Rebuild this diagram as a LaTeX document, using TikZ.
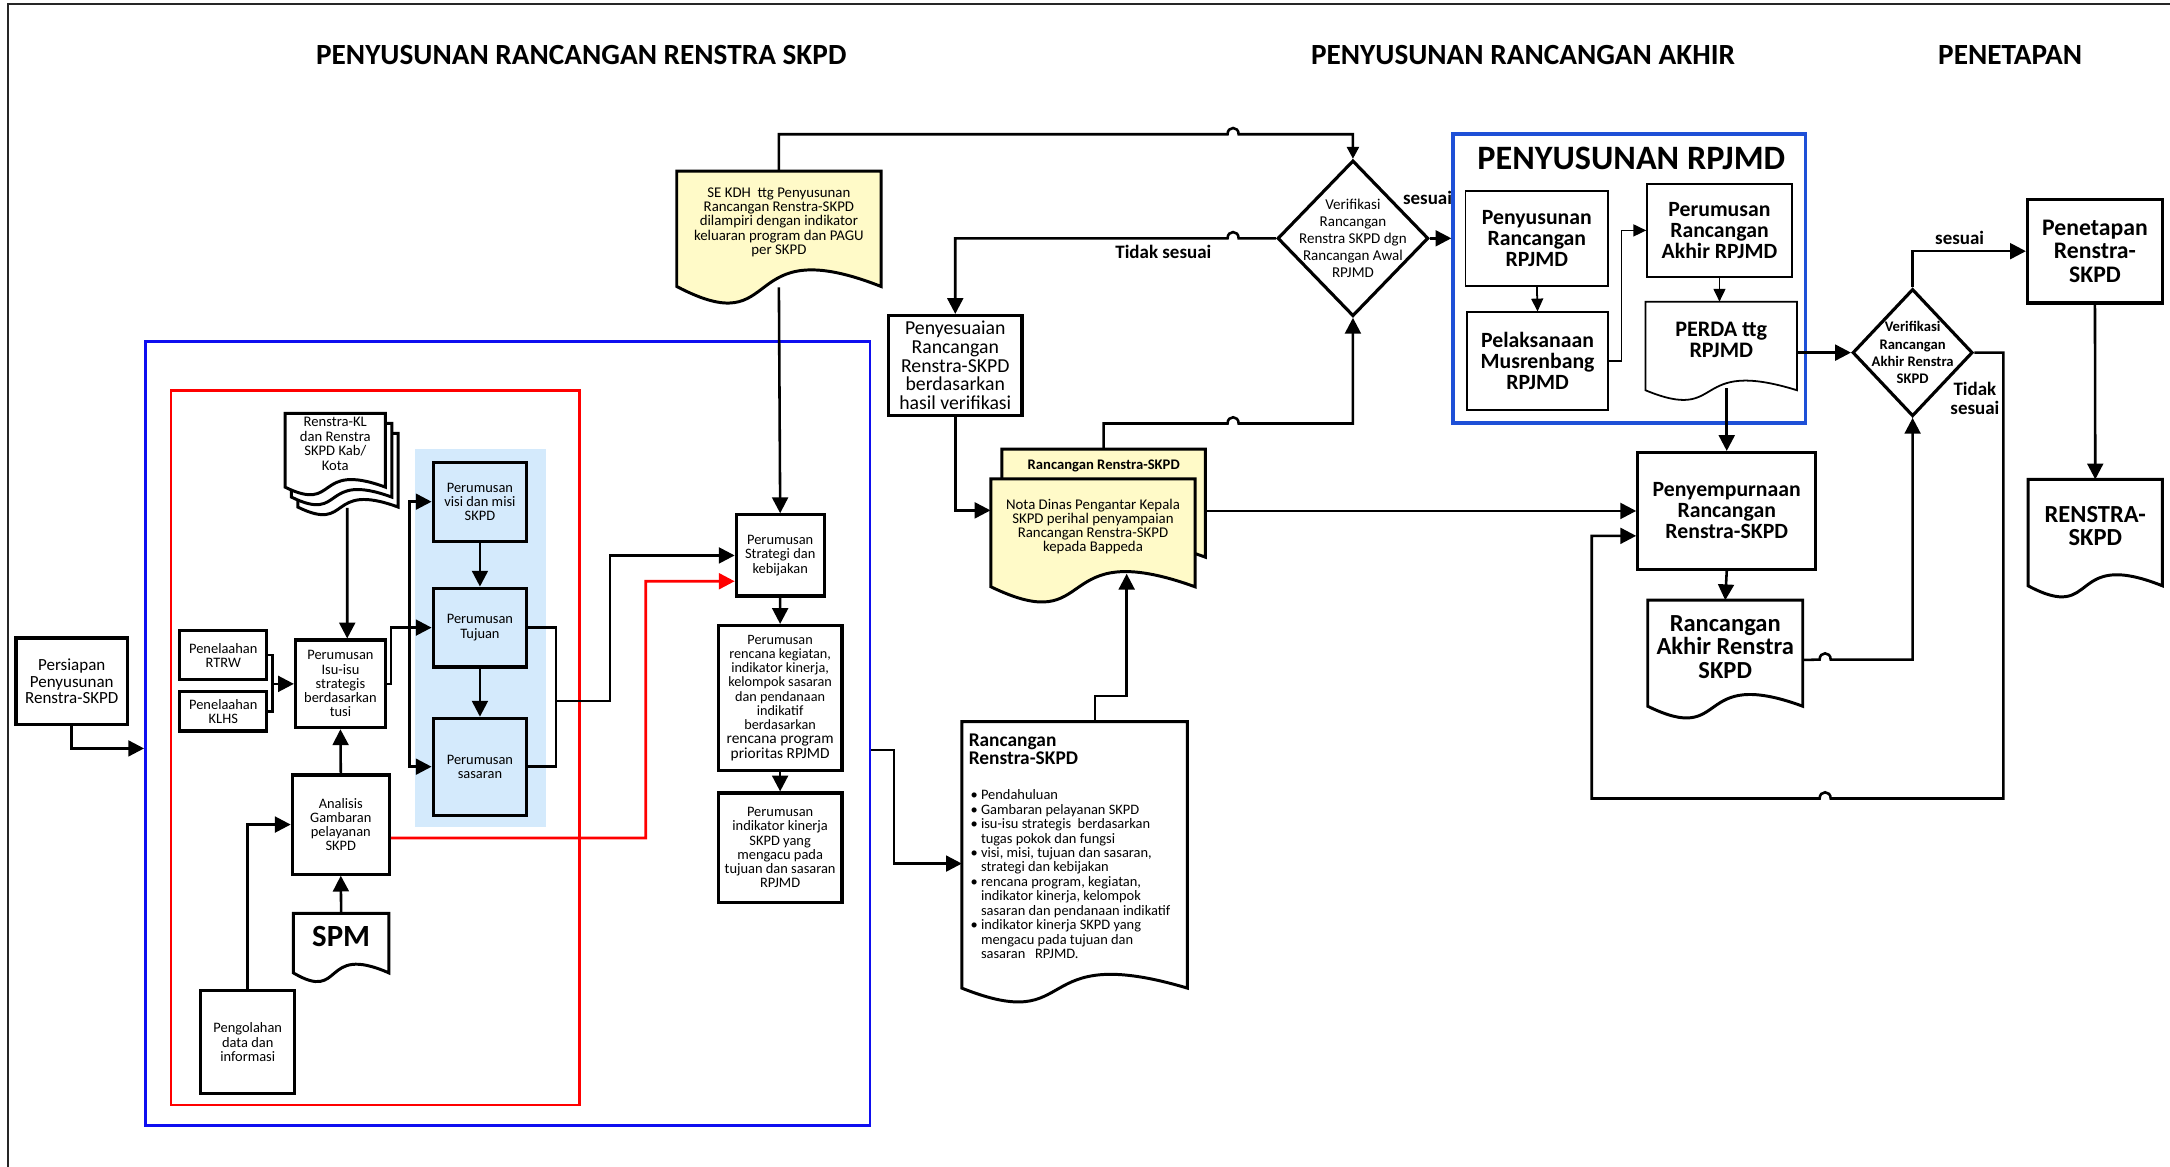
\documentclass[tikz,border=0pt]{standalone}
\usepackage{fontspec}
\setmainfont{Carlito}
\usetikzlibrary{shapes.geometric,arrows.meta,calc}
\definecolor{yel}{RGB}{255,250,200}
\definecolor{lb}{RGB}{212,234,252}
\definecolor{obl}{RGB}{15,15,240}
\definecolor{rpb}{RGB}{30,80,215}
\newcommand{\setfs}[2]{\fontsize{#1pt}{#2pt}\selectfont\lineskiplimit=-100pt\relax}
\newcommand{\docsh}[6][]{\draw[docl,#1] (#2,#3) -- (#4,#3) -- (#4,#5) .. controls ({#2+0.286*(#4-#2)},{#5-3.46*#6}) and ({#2+0.534*(#4-#2)},{#5+3.46*#6}) .. (#2,#5) -- cycle;}
\newcommand{\dc}[9][]{\docsh[#1]{#3}{#4}{#5}{#6}{#7}\node[doct,minimum width={(#5-#3)*0.7pt},minimum height={(#6-#4-10)*0.7pt},anchor=north,#8] (#2) at ({(#3+#5)/2},#4) {#9};}
\newcommand{\bx}[7][]{\node[box,minimum width={(#5-#3)*0.7pt},minimum height={(#6-#4)*0.7pt},#1] (#2) at ({(#3+#5)/2},{(#4+#6)/2}) {#7};}
\tikzset{
 box/.style={draw, line width=1.6pt, inner sep=0pt, align=center, fill=white},
 doct/.style={inner sep=0pt, align=center},
 docl/.style={draw, line width=1.5pt, fill=white, line join=miter},
 conn/.style={line width=1.3pt},
 arr/.style={conn, -{Triangle[length=8pt,width=8pt]}},
 arrsm/.style={line width=0.9pt, -{Triangle[length=6.5pt,width=6pt]}},
 rarr/.style={line width=1.4pt, red, -{Triangle[length=8pt,width=8pt]}},
 lbl/.style={inner sep=0pt, align=center, font=\setfs{9.6}{9.8}\bfseries},
 hdr/.style={inner sep=0pt, font=\setfs{14.8}{16}\bfseries},
 dia/.style={diamond, draw, line width=1.6pt, fill=white, inner sep=-12pt, align=center}
}
\begin{document}
\begin{tikzpicture}[x=0.7pt,y=-0.7pt]
\useasboundingbox (0,0) rectangle (1568,843);
% frame
\draw[line width=1.1pt, black!85] (5.8,843) -- (5.8,3) -- (1568,3);
% headers
\node[hdr] (h1) at (420,40) {PENYUSUNAN RANCANGAN RENSTRA SKPD};
\node[hdr] (h2) at (1100.5,40) {PENYUSUNAN RANCANGAN AKHIR};
\node[hdr] (h3) at (1452.5,40) {PENETAPAN};
% containers
\bx[draw=obl,line width=1.4pt,fill=none]{outer}{105.1}{247}{628.6}{813}{}
\bx[draw=red,line width=1.4pt,fill=none]{redbox}{123.6}{282.3}{418.5}{798.5}{}
\bx[draw=none,fill=lb]{bg}{300}{324.7}{394.6}{597.6}{}
% left part
\bx[font=\setfs{8.6}{8.3}]{pers}{11.6}{461}{92.1}{523.6}{Persiapan\\Penyusunan\\Renstra-SKPD}
\bx[font=\setfs{7.3}{7.1}]{rtrw}{130}{455.7}{192.7}{490.9}{Penelaahan\\RTRW}
\bx[font=\setfs{7.3}{7.1}]{klhs}{130}{499.8}{192.7}{528.2}{Penelaahan\\KLHS}
\bx[font=\setfs{7.3}{7.2}]{isu}{213.5}{462.5}{278.5}{525.8}{Perumusan\\Isu-isu\\strategis\\berdasarkan\\tusi}
\bx[fill=lb,font=\setfs{7.3}{7.1}]{visi}{313}{334}{380.6}{391}{Perumusan\\visi dan misi\\SKPD}
\bx[fill=lb,font=\setfs{7.3}{7.1}]{tuj}{313}{425}{380.6}{482}{Perumusan\\Tujuan}
\bx[fill=lb,font=\setfs{7.3}{7.1}]{sas}{313}{519}{380.6}{589}{Perumusan\\sasaran}
\bx[font=\setfs{7.3}{7.2}]{ana}{211.2}{560}{281.3}{631.6}{Analisis\\Gambaran\\pelayanan\\SKPD}
\bx[font=\setfs{7.3}{7.2}]{peng}{145}{716}{213}{790}{Pengolahan\\data dan\\informasi}
\docsh{215.2}{313.1}{287.7}{366.4}{5.5}
\docsh{210.6}{305.9}{283.1}{359.2}{5.5}
\dc{kl}{206}{298.7}{278.5}{352}{5.5}{font=\setfs{7.4}{7.3}}{Renstra-KL\\dan Renstra\\SKPD Kab/\\Kota}
\dc{spm}{212}{660}{281}{703}{6.3}{font=\setfs{15.6}{16}\bfseries}{SPM}
% middle column
\dc[fill=yel]{sekdh}{489}{123.6}{636.6}{207}{12}{font=\setfs{7.5}{7.2}}{SE KDH\ \ ttg Penyusunan\\Rancangan Renstra-SKPD\\dilampiri dengan indikator\\keluaran program dan PAGU\\per SKPD}
\bx[font=\setfs{7.3}{7.2}]{strat}{532}{372}{595.5}{430.7}{Perumusan\\Strategi dan\\kebijakan}
\bx[font=\setfs{7.2}{7.2}]{ren}{519}{452}{608.4}{556.5}{Perumusan\\rencana kegiatan,\\indikator kinerja,\\kelompok sasaran\\dan pendanaan\\indikatif\\berdasarkan\\{\setfs{7.8}{7.2}rencana program}\\{\setfs{7.8}{7.2}prioritas RPJMD}}
\bx[font=\setfs{7.3}{7.2}]{ind}{519}{573}{608.4}{652}{Perumusan\\indikator kinerja\\SKPD yang\\mengacu pada\\tujuan dan sasaran\\RPJMD}
% big document
\docsh{695}{521.5}{858}{714}{10}
\node[anchor=north west,inner sep=0pt] (bigdoc) at (695,521.5) {\begin{minipage}[c][134.75pt][t]{114.1pt}%
\lineskiplimit=-100pt
\vspace*{5.9pt}
{\setfs{9.8}{9.3}\bfseries\leftskip=3.3pt Rancangan\\Renstra-SKPD\par}
\vspace{10.4pt}
{\setfs{7.3}{7.3}\leftskip=4.2pt
\hangindent=5.3pt\hangafter=1\makebox[5.3pt][l]{\textbullet}Pendahuluan\par
\hangindent=5.3pt\hangafter=1\makebox[5.3pt][l]{\textbullet}Gambaran pelayanan SKPD\par
\hangindent=5.3pt\hangafter=1\makebox[5.3pt][l]{\textbullet}isu-isu strategis\ \ berdasarkan\\tugas pokok dan fungsi\par
\hangindent=5.3pt\hangafter=1\makebox[5.3pt][l]{\textbullet}visi, misi, tujuan dan sasaran,\\strategi dan kebijakan\par
\hangindent=5.3pt\hangafter=1\makebox[5.3pt][l]{\textbullet}rencana program, kegiatan,\\indikator kinerja, kelompok\\sasaran dan pendanaan indikatif\par
\hangindent=5.3pt\hangafter=1\makebox[5.3pt][l]{\textbullet}indikator kinerja SKPD yang\\mengacu pada tujuan dan\\sasaran\ \ \ RPJMD.\par}
\end{minipage}};
% Penyesuaian and Nota
\bx[font=\setfs{10}{9.45}]{pys}{642}{228}{738.5}{300}{Penyesuaian\\Rancangan\\Renstra-SKPD\\berdasarkan\\hasil verifikasi}
\dc[fill=yel]{notab}{724}{324.6}{871}{402.6}{11}{minimum height={24.2*0.7pt},font=\setfs{7.4}{7.4}\bfseries}{Rancangan Renstra-SKPD}
\dc[fill=yel]{notaf}{716}{346}{863.5}{424}{11}{font=\setfs{7.5}{7.1}}{Nota Dinas Pengantar Kepala\\SKPD perihal penyampaian\\Rancangan Renstra-SKPD\\kepada Bappeda}
% diamond 1
\node[dia,minimum width={109*0.7pt},minimum height={112.6*0.7pt},font=\setfs{7.6}{8.7}] (d1) at (977.6,172.2) {Verifikasi\\Rancangan\\Renstra SKPD dgn\\Rancangan Awal\\RPJMD};
% RPJMD block
\bx[draw=rpb,line width=1.8pt]{rp}{1050}{96.8}{1304.5}{305.8}{}
\node[inner sep=0pt,font=\setfs{17.3}{18}\bfseries] (rpt) at (1178.7,114.4) {PENYUSUNAN RPJMD};
\bx[line width=0.9pt,font=\setfs{11}{10.6}\bfseries]{pr}{1059}{138}{1162}{206.4}{Penyusunan\\Rancangan\\RPJMD}
\bx[line width=0.9pt,font=\setfs{11}{10.6}\bfseries]{pl}{1060}{225.7}{1162}{296.3}{Pelaksanaan\\Musrenbang\\RPJMD}
\bx[line width=0.9pt,font=\setfs{11}{10.6}\bfseries]{pa}{1190.2}{133}{1294.7}{200}{Perumusan\\Rancangan\\Akhir RPJMD}
\dc[line width=0.9pt]{perda}{1189}{218}{1298.5}{282}{7}{font=\setfs{11.2}{10.6}\bfseries}{PERDA ttg\\RPJMD}
% diamond 2
\node[dia,minimum width={86.8*0.7pt},minimum height={92*0.7pt},font=\setfs{7.4}{8.75}\bfseries] (d2) at (1382,254.8) {Verifikasi\\Rancangan\\Akhir Renstra\\SKPD};
% right part
\bx[font=\setfs{11}{10.6}\bfseries]{pny}{1183.4}{327}{1312}{411.4}{Penyempurnaan\\Rancangan\\Renstra-SKPD}
\dc{ra}{1190.6}{433.7}{1302.6}{510.3}{8.5}{font=\setfs{12.4}{11.9}\bfseries}{Rancangan\\Akhir Renstra\\SKPD}
\bx[font=\setfs{12}{11.8}\bfseries]{pen}{1465}{144}{1562.5}{219}{Penetapan\\Renstra-\\SKPD}
\dc{renstra}{1465.5}{346.4}{1562.5}{423.3}{8}{font=\setfs{12.4}{11.9}\bfseries}{RENSTRA-\\SKPD}
% labels
\node[lbl] (ts1) at (840.6,181.9) {Tidak sesuai};
\node[lbl] (s1) at (1031.5,143) {sesuai};
\node[lbl] (s2) at (1416,172) {sesuai};
\node[lbl] (ts2) at (1427,288) {Tidak\\sesuai};
% connectors left
\coordinate (brk) at (196.9,494.15);
\coordinate (busl) at (296,453.5);
\coordinate (busr) at (401.8,506.6);
\draw[arr] (pers.south) |- ($(outer.west)+(0,10.8)$);
\draw[conn] (rtrw.east) -| (brk);
\draw[conn] (klhs.east) -| (brk);
\draw[arr] (brk) -- (isu.west);
\draw[arr] ($(kl.south)+(8.65,24.4)$) -- ($(isu.north)+(4.9,0)$);
\draw[arr] (ana.north) -- (isu.south);
\draw[arr] (spm.north) -- (ana.south);
\draw[arr] (peng.north) |- (ana.west);
\draw[arr] (isu.east) -- ++(3,0) |- (tuj.west);
\draw[arr] (busl) |- (visi.west);
\draw[arr] (busl) |- (sas.west);
\draw[arr] (visi.south) -- (tuj.north);
\draw[arr] (tuj.south) -- (sas.north);
\draw[conn] (tuj.east) -| (busr);
\draw[conn] (sas.east) -| (busr);
\draw[arr] (busr) -- (440.8,506.6) |- (strat.west);
\draw[rarr] ($(ana.east)+(0,9.8)$) -| (466.6,420) -- ($(strat.west)+(0,18.65)$);
% middle connectors
\draw[arr] ($(sekdh.south)+(0,10)$) -- (strat.north);
\draw[arr] (strat.south) -- (ren.north);
\draw[arr] (ren.south) -- (ind.north);
\draw[arr] ($(outer.east)+(0,12)$) -- (646,542) |- ($(bigdoc.north west)+(0,102.5)$);
\draw[arr] ($(bigdoc.north)+(14.3,0)$) -- ++(0,-18.5) -| ($(notaf.south)+(24.35,0)$);
\draw[arr] (pys.south) |- ($(notaf.west)+(0,-11.5)$);
\draw[arr] (notab.north) |- (887,306) .. controls (887,300) and (895,300) .. (895,306) -| (d1.south);
\draw[arr] (d1.west) -- (895,172.2) .. controls (895,166.2) and (887,166.2) .. (887,172.2) -| (pys.north);
\draw[conn,-{Triangle[length=6pt,width=6pt]}] (sekdh.north) |- (887,97) .. controls (887,91) and (895,91) .. (895,97) -| (d1.north);
\draw[arr] (d1.east) -- (d1.east -| rp.west);
% RPJMD connectors
\draw[arrsm] (pr.south) -- (pl.north);
\draw[arrsm] (pl.east) -- ++(9,0) |- (pa.west);
\draw[arrsm] (pa.south) -- (pa.south |- perda.north);
\draw[arr] ($(perda.south -| pny.north)+(0,8)$) -- (pny.north);
\draw[arr] (perda.east |- d2.west) -- (d2.west);
% right connectors
\draw[arr] (notab.east |- pny.west) -- (pny.west);
\draw[arr] (pny.south) -- (ra.north);
\draw[arr] ($(ra.east)+(0,9.6)$) -- (1314.8,476.6) .. controls (1314.8,470.6) and (1322.8,470.6) .. (1322.8,476.6) -| (d2.south);
\draw[arr] (d2.north) |- (pen.west);
\draw[arr] (d2.east) -- (1447.6,254.8) -- (1447.6,577) -- (1322.8,577) .. controls (1322.8,571) and (1314.8,571) .. (1314.8,577) -| ($(pny.west)+(-32.1,18)$) -- ($(pny.west)+(0,18)$);
\draw[arr] (pen.south) -- (renstra.north);
\end{tikzpicture}
\end{document}
